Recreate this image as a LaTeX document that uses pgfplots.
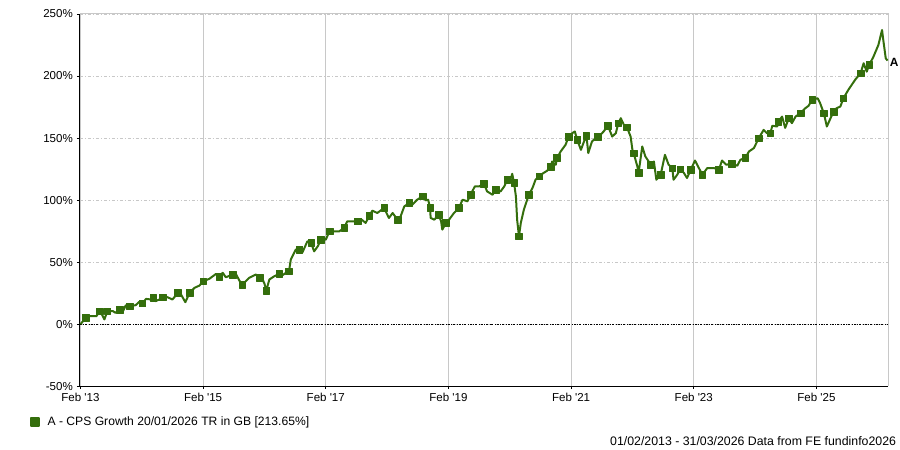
\documentclass[border=0pt]{standalone}
\usepackage{pgfplots}
\pgfplotsset{compat=1.18}
\usepackage{fontspec}
\newfontfamily\arial{Liberation Sans}
\definecolor{fegreen}{RGB}{52,110,12}
\definecolor{gridgray}{RGB}{200,200,200}

\begin{document}
\arial\fontsize{11.6}{13}\selectfont
\begin{tikzpicture}
\begin{axis}[
  scale only axis,
  width=810bp, height=373bp,
  xmin=2013.07, xmax=2026.25,
  ymin=-50, ymax=250,
  clip=false,
  axis lines=left,
  axis line style={-, black, line width=1bp},
  xtick={2013.08,2015.08,2017.08,2019.08,2021.08,2023.08,2025.08},
  xticklabels={Feb '13,Feb '15,Feb '17,Feb '19,Feb '21,Feb '23,Feb '25},
  ytick={-50,0,50,100,150,200,250},
  yticklabels={-50\%,0\%,50\%,100\%,150\%,200\%,250\%},
  tick align=outside,
  major tick length=3bp,
  tick style={black, line width=0.6bp},
  xmajorgrids, ymajorgrids,
  x grid style={gridgray, line width=0.8bp},
  y grid style={gridgray, line width=0.8bp, dash pattern=on 3bp off 2bp on 1bp off 2bp},
  legend style={at={(-0.066,-0.0965)}, anchor=west, draw=none, fill=none,
    font=\arial\fontsize{12.2}{14}\selectfont},
  legend cell align=left,
  legend image code/.code={\fill[fegreen] (0bp,-4bp) rectangle (8bp,4bp);
    \path (14bp,0bp);},
]
% frame top and right
\draw[gridgray, line width=1bp] (rel axis cs:0,1) -- (rel axis cs:1,1) -- (rel axis cs:1,0);

% zero line
\addplot[black, line width=0.6bp, dash pattern=on 2bp off 1.5bp on 0.5bp off 1.5bp, forget plot]
  coordinates {(2013.07,0) (2026.25,0)};

\addplot[fegreen, line width=2bp, line join=round, mark=square*, mark size=3.3bp,
  mark indices={2,5,...,216}, mark options={solid, fill=fegreen, line width=0.5bp}]
coordinates {
(2013.08,0) (2013.17,5.1) (2013.23,6.4) (2013.34,6.4) (2013.39,10.5) (2013.43,7.8)
(2013.47,3.8) (2013.52,10.5) (2013.61,10.5) (2013.65,9.2) (2013.72,11.8) (2013.77,10.0)
(2013.82,15.3) (2013.88,14.5) (2013.98,15.3) (2014.04,18.0) (2014.09,16.7) (2014.15,20.4)
(2014.23,19.9) (2014.27,21.2) (2014.30,18.5) (2014.37,19.9) (2014.42,21.7) (2014.50,21.7)
(2014.58,19.9) (2014.67,25.3) (2014.72,23.9) (2014.79,17.7) (2014.86,25.3) (2014.94,29.3)
(2015.02,31.1) (2015.08,34.6) (2015.18,36.5) (2015.29,40.5) (2015.34,38.1) (2015.40,41.4)
(2015.45,37.8) (2015.56,40.0) (2015.62,40.0) (2015.67,35.2) (2015.72,31.9) (2015.83,37.3)
(2015.94,40.0) (2016.00,37.3) (2016.05,36.0) (2016.08,32.7) (2016.11,27.1) (2016.16,36.0)
(2016.24,38.6) (2016.32,40.5) (2016.35,38.6) (2016.43,41.4) (2016.48,42.6) (2016.51,52.1)
(2016.59,60.1) (2016.65,60.1) (2016.70,57.9) (2016.78,66.8) (2016.84,65.5) (2016.89,58.7)
(2016.95,62.8) (2017.00,68.1) (2017.05,69.5) (2017.08,68.1) (2017.14,74.8) (2017.22,74.8)
(2017.30,74.8) (2017.38,77.6) (2017.43,82.9) (2017.52,82.9) (2017.60,82.9) (2017.65,84.8)
(2017.73,81.6) (2017.79,87.4) (2017.84,91.5) (2017.92,89.6) (2018.03,93.6) (2018.11,85.6)
(2018.17,89.6) (2018.25,84.2) (2018.30,86.9) (2018.36,94.9) (2018.44,97.7) (2018.49,96.3)
(2018.57,100.3) (2018.66,103.0) (2018.71,99.8) (2018.75,100.3) (2018.78,93.6) (2018.79,85.6)
(2018.85,84.2) (2018.92,88.3) (2018.96,82.9) (2018.98,76.2) (2019.04,81.6) (2019.09,84.2)
(2019.17,89.6) (2019.25,93.6) (2019.31,100.3) (2019.39,99.0) (2019.44,104.3) (2019.51,111.0)
(2019.58,111.0) (2019.66,113.2) (2019.71,107.0) (2019.80,104.3) (2019.85,108.4) (2019.93,107.0)
(2019.99,111.0) (2020.04,116.4) (2020.10,117.8) (2020.12,121.2) (2020.15,113.8) (2020.18,103.0)
(2020.20,84.2) (2020.23,70.8) (2020.26,81.6) (2020.31,92.3) (2020.39,104.3) (2020.45,109.7)
(2020.50,116.4) (2020.56,119.1) (2020.61,121.2) (2020.69,123.7) (2020.75,127.1) (2020.77,131.1)
(2020.83,128.5) (2020.85,133.9) (2020.91,139.2) (2020.99,144.6) (2021.04,151.2) (2021.10,154.0)
(2021.14,155.3) (2021.18,148.6) (2021.24,140.5) (2021.29,147.2) (2021.33,151.8) (2021.36,137.9)
(2021.42,147.2) (2021.51,151.2) (2021.56,152.6) (2021.61,155.3) (2021.68,159.9) (2021.75,151.2)
(2021.81,154.0) (2021.85,162.0) (2021.89,166.0) (2021.94,160.7) (2021.99,158.8) (2022.05,151.2)
(2022.08,140.5) (2022.10,137.9) (2022.13,132.5) (2022.16,127.1) (2022.18,121.8) (2022.24,143.2)
(2022.29,135.2) (2022.38,128.5) (2022.43,131.1) (2022.47,116.4) (2022.54,120.4) (2022.61,136.5)
(2022.67,128.5) (2022.73,125.8) (2022.75,116.4) (2022.81,120.4) (2022.86,125.0) (2022.92,121.8)
(2022.97,117.8) (2023.03,124.5) (2023.10,131.9) (2023.15,127.1) (2023.22,120.4) (2023.30,125.8)
(2023.41,125.8) (2023.49,124.5) (2023.54,131.9) (2023.61,128.5) (2023.70,129.3) (2023.79,127.7)
(2023.84,132.5) (2023.92,133.9) (2023.98,139.2) (2024.06,141.9) (2024.14,150.0) (2024.22,156.6)
(2024.27,154.0) (2024.33,154.0) (2024.36,159.9) (2024.44,159.3) (2024.46,163.3) (2024.52,167.3)
(2024.57,158.2) (2024.63,166.0) (2024.68,162.0) (2024.74,167.3) (2024.82,170.1) (2024.90,174.1)
(2024.95,175.9) (2025.01,180.8) (2025.10,182.1) (2025.14,178.1) (2025.20,170.1) (2025.25,159.3)
(2025.31,166.0) (2025.36,171.4) (2025.41,174.1) (2025.47,175.4) (2025.52,182.1) (2025.60,188.8)
(2025.71,196.9) (2025.80,202.3) (2025.85,210.3) (2025.90,203.5) (2025.94,208.9) (2026.01,215.6)
(2026.09,225.0) (2026.15,237.1) (2026.17,229.0) (2026.21,214.3) (2026.24,212.4)
};
\addlegendentry{A - CPS Growth 20/01/2026 TR in GB [213.65\%]}

\node[anchor=west, inner sep=1.5bp, font=\arial\bfseries\fontsize{12}{14}\selectfont]
  at (axis cs:2026.25,211) {A};

\node[anchor=base east, inner sep=0pt, font=\arial\fontsize{12.4}{14}\selectfont]
  at (rel axis cs:1.0099,-0.158)
  {01/02/2013 - 31/03/2026 Data from FE fundinfo2026};

% page extent
\path (rel axis cs:-0.09877,-0.16890) rectangle (rel axis cs:1.012346,1.037534);
\end{axis}
\end{tikzpicture}
\end{document}
